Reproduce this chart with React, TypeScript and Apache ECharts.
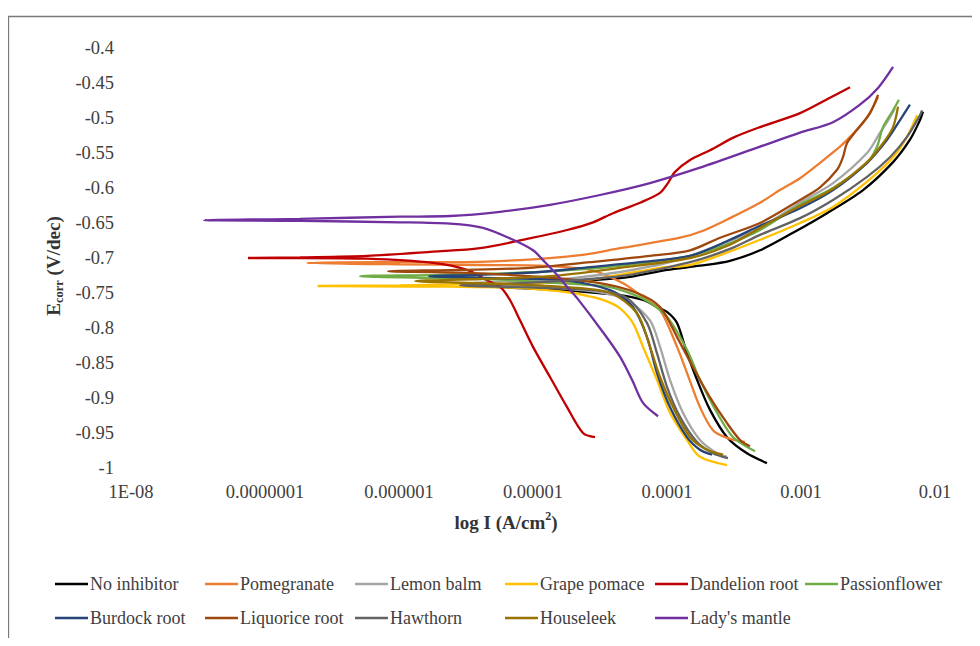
import React, { useEffect, useRef } from "react";
import * as echarts from "echarts";

const seriesNames = [
  "No inhibitor",
  "Pomegranate",
  "Lemon balm",
  "Grape pomace",
  "Dandelion root",
  "Passionflower",
  "Burdock root",
  "Liquorice root",
  "Hawthorn",
  "Houseleek",
  "Lady's mantle",
];

const seriesColors = [
  "#000000",
  "#ED7D31",
  "#A5A5A5",
  "#FFC000",
  "#C00000",
  "#70AD47",
  "#264478",
  "#9E480E",
  "#636363",
  "#997300",
  "#7030A0",
];

const xTickLabels = ["1E-08", "0.0000001", "0.000001", "0.00001", "0.0001", "0.001", "0.01"];

// log10(I) and E pairs, from the cathodic end, through Ecorr, to the anodic end
const noInhibitorLogI = [-3.254, -3.403, -3.552, -3.679, -3.776, -3.851, -3.925, -4.0, -4.075, -4.179, -4.351, -4.575, -4.799, -5.097, -5.396, -4.948, -4.5, -4.276, -4.0, -3.754, -3.53, -3.306, -3.06, -2.806, -2.537, -2.313, -2.187, -2.112, -2.09];
const noInhibitorE = [-0.993, -0.979, -0.956, -0.917, -0.874, -0.836, -0.793, -0.777, -0.77, -0.76, -0.753, -0.749, -0.746, -0.743, -0.74, -0.736, -0.731, -0.727, -0.717, -0.711, -0.704, -0.689, -0.664, -0.636, -0.603, -0.563, -0.531, -0.503, -0.491];

const pomegranateLogI = [-3.418, -3.552, -3.657, -3.754, -3.851, -3.925, -4.052, -4.179, -4.328, -4.575, -4.948, -5.396, -5.993, -6.687, -6.142, -5.619, -5.097, -4.649, -4.351, -3.903, -3.731, -3.53, -3.306, -3.157, -3.007, -2.858, -2.709, -2.634, -2.507, -2.425];
const pomegranateE = [-0.963, -0.957, -0.946, -0.913, -0.864, -0.827, -0.774, -0.756, -0.736, -0.717, -0.711, -0.71, -0.709, -0.707, -0.706, -0.706, -0.703, -0.696, -0.686, -0.671, -0.661, -0.643, -0.621, -0.603, -0.586, -0.564, -0.541, -0.527, -0.499, -0.47];

const lemonBalmLogI = [-3.552, -3.627, -3.754, -3.881, -3.978, -4.052, -4.127, -4.299, -4.5, -4.799, -5.097, -5.47, -5.097, -4.724, -4.351, -3.978, -3.604, -3.306, -3.007, -2.761, -2.507, -2.41, -2.336, -2.299];
const lemonBalmE = [-0.984, -0.979, -0.96, -0.921, -0.874, -0.827, -0.789, -0.76, -0.749, -0.743, -0.739, -0.736, -0.733, -0.729, -0.72, -0.706, -0.681, -0.657, -0.621, -0.593, -0.55, -0.521, -0.499, -0.486];

const grapePomaceLogI = [-3.552, -3.754, -3.851, -3.978, -4.075, -4.179, -4.254, -4.351, -4.448, -4.575, -4.701, -5.075, -5.619, -6.604, -5.993, -5.396, -4.948, -4.575, -4.351, -4.052, -3.828, -3.604, -3.306, -3.007, -2.761, -2.507, -2.313, -2.209, -2.134];
const grapePomaceE = [-0.996, -0.984, -0.96, -0.921, -0.874, -0.827, -0.793, -0.772, -0.762, -0.755, -0.75, -0.743, -0.741, -0.74, -0.739, -0.737, -0.736, -0.731, -0.724, -0.714, -0.71, -0.696, -0.674, -0.65, -0.627, -0.591, -0.556, -0.527, -0.496];

const dandelionRootLogI = [-4.537, -4.627, -4.746, -4.873, -5.0, -5.097, -5.172, -5.246, -5.321, -5.493, -5.746, -6.239, -6.739, -7.127, -6.739, -6.239, -5.746, -5.396, -5.0, -4.746, -4.552, -4.403, -4.201, -4.052, -3.993, -3.94, -3.828, -3.679, -3.493, -3.306, -3.007, -2.784, -2.634];
const dandelionRootE = [-0.956, -0.95, -0.913, -0.87, -0.827, -0.789, -0.76, -0.741, -0.734, -0.717, -0.707, -0.701, -0.7, -0.7, -0.699, -0.697, -0.691, -0.686, -0.671, -0.66, -0.649, -0.636, -0.621, -0.607, -0.593, -0.577, -0.56, -0.546, -0.527, -0.513, -0.493, -0.471, -0.456];

const passionflowerLogI = [-3.343, -3.507, -3.627, -3.754, -3.851, -4.0, -4.127, -4.239, -4.448, -4.799, -5.246, -5.694, -6.291, -5.694, -5.097, -4.5, -4.127, -3.828, -3.53, -3.306, -3.007, -2.761, -2.507, -2.433, -2.388, -2.313, -2.269];
const passionflowerE = [-0.976, -0.956, -0.921, -0.874, -0.831, -0.784, -0.764, -0.753, -0.741, -0.736, -0.731, -0.729, -0.726, -0.724, -0.721, -0.714, -0.706, -0.697, -0.679, -0.66, -0.624, -0.6, -0.564, -0.541, -0.513, -0.489, -0.474];

const burdockRootLogI = [-3.664, -3.754, -3.851, -3.978, -4.075, -4.149, -4.254, -4.425, -4.821, -5.246, -5.776, -5.396, -4.948, -4.575, -4.201, -3.828, -3.53, -3.306, -3.007, -2.761, -2.507, -2.358, -2.261, -2.187];
const burdockRootE = [-0.981, -0.974, -0.956, -0.913, -0.864, -0.813, -0.77, -0.746, -0.731, -0.729, -0.726, -0.724, -0.72, -0.713, -0.706, -0.697, -0.674, -0.654, -0.629, -0.603, -0.564, -0.531, -0.503, -0.481];

const liquoriceRootLogI = [-3.381, -3.455, -3.552, -3.679, -3.806, -3.925, -4.052, -4.224, -4.5, -4.948, -5.545, -6.082, -5.545, -5.022, -4.575, -4.127, -3.828, -3.604, -3.306, -3.007, -2.858, -2.731, -2.687, -2.657, -2.582, -2.485, -2.425];
const liquoriceRootE = [-0.969, -0.96, -0.936, -0.899, -0.856, -0.813, -0.77, -0.75, -0.736, -0.727, -0.721, -0.719, -0.717, -0.714, -0.706, -0.697, -0.689, -0.671, -0.65, -0.617, -0.599, -0.574, -0.556, -0.536, -0.517, -0.493, -0.467];

const hawthornLogI = [-3.545, -3.657, -3.776, -3.903, -4.0, -4.075, -4.149, -4.299, -4.5, -4.873, -5.545, -5.097, -4.649, -4.276, -3.828, -3.53, -3.306, -3.007, -2.761, -2.507, -2.336, -2.209, -2.112, -2.097];
const hawthornE = [-0.986, -0.979, -0.963, -0.927, -0.884, -0.836, -0.793, -0.757, -0.747, -0.743, -0.739, -0.736, -0.731, -0.724, -0.706, -0.687, -0.667, -0.643, -0.617, -0.584, -0.556, -0.527, -0.496, -0.489];

const houseleekLogI = [-3.582, -3.701, -3.828, -3.955, -4.052, -4.127, -4.224, -4.425, -4.799, -5.246, -5.881, -5.396, -4.873, -4.351, -3.828, -3.53, -3.306, -3.06, -2.761, -2.507, -2.388, -2.313, -2.276];
const houseleekE = [-0.981, -0.974, -0.956, -0.913, -0.87, -0.827, -0.779, -0.75, -0.741, -0.737, -0.733, -0.73, -0.726, -0.714, -0.7, -0.681, -0.657, -0.631, -0.601, -0.563, -0.536, -0.513, -0.484];

const ladysMantleLogI = [-4.067, -4.179, -4.261, -4.351, -4.478, -4.672, -4.746, -4.821, -4.91, -5.0, -5.149, -5.373, -5.619, -5.993, -6.739, -7.455, -6.739, -5.993, -5.619, -5.246, -4.873, -4.5, -4.127, -3.754, -3.306, -3.007, -2.761, -2.56, -2.425, -2.313];
const ladysMantleE = [-0.926, -0.907, -0.874, -0.841, -0.806, -0.757, -0.741, -0.724, -0.706, -0.689, -0.674, -0.657, -0.651, -0.649, -0.647, -0.646, -0.644, -0.641, -0.64, -0.634, -0.624, -0.61, -0.593, -0.571, -0.541, -0.521, -0.506, -0.481, -0.457, -0.427];

const seriesLogI = [
  noInhibitorLogI, pomegranateLogI, lemonBalmLogI, grapePomaceLogI, dandelionRootLogI,
  passionflowerLogI, burdockRootLogI, liquoriceRootLogI, hawthornLogI, houseleekLogI, ladysMantleLogI,
];
const seriesE = [
  noInhibitorE, pomegranateE, lemonBalmE, grapePomaceE, dandelionRootE,
  passionflowerE, burdockRootE, liquoriceRootE, hawthornE, houseleekE, ladysMantleE,
];

const FONT = "Liberation Serif";

export default function App() {
  const ref = useRef<HTMLDivElement>(null);

  useEffect(() => {
    if (!ref.current) return;
    const chart = echarts.init(ref.current, null, { renderer: "svg" });

    const series = seriesNames.map((name, i) => ({
      name,
      type: "line",
      data: seriesLogI[i].map((l, k) => [Math.pow(10, l), seriesE[i][k]]),
      symbol: "none",
      smooth: 0.3,
      lineStyle: { color: seriesColors[i], width: 2.3 },
      itemStyle: { color: seriesColors[i] },
    }));

    const legends = seriesNames.map((name, i) => {
      const row = i < 6 ? 0 : 1;
      const col = i < 6 ? i : i - 6;
      return {
        data: [name],
        left: 47 + col * 150,
        top: 567 + row * 34,
        padding: 0,
        icon: "rect",
        itemWidth: 33,
        itemHeight: 2.5,
        selectedMode: false,
        textStyle: { color: "#404040", fontSize: 18, fontFamily: FONT, padding: [0, 0, 0, -3] },
      };
    });

    chart.setOption({
      animation: false,
      grid: { left: 123, right: 45, top: 40, bottom: 170 },
      xAxis: {
        type: "log",
        min: 1e-8,
        max: 1e-2,
        axisLine: { show: false },
        axisTick: { show: false },
        splitLine: { show: false },
        axisLabel: {
          fontSize: 18.5,
          fontFamily: FONT,
          color: "#404040",
          margin: 14,
          formatter: (v: number) => xTickLabels[Math.round(Math.log10(v)) + 8] ?? "",
        },
      },
      yAxis: {
        type: "value",
        min: -1,
        max: -0.4,
        interval: 0.05,
        axisLine: { show: false },
        axisTick: { show: false },
        splitLine: { show: false },
        axisLabel: {
          fontSize: 18.5,
          fontFamily: FONT,
          color: "#404040",
          margin: 17,
          formatter: (v: number) => String(parseFloat(v.toFixed(2))),
        },
      },
      legend: legends,
      graphic: [
        {
          type: "rect",
          shape: { x: 0.5, y: 8.5, width: 1200, height: 1000 },
          style: { fill: "none", stroke: "#7a7a7a", lineWidth: 1.3 },
          silent: true,
        },
        {
          type: "text",
          x: 498,
          y: 514,
          style: {
            text: "log I (A/cm{s|2}{a|)}",
            fill: "#333333",
            fontFamily: FONT,
            fontSize: 19,
            fontWeight: "bold",
            align: "center",
            verticalAlign: "middle",
            rich: {
              a: { fontFamily: FONT, fontSize: 19, fontWeight: "bold", lineHeight: 24 },
              s: { fontFamily: FONT, fontSize: 12, fontWeight: "bold", verticalAlign: "top", lineHeight: 12 },
            },
          },
        },
        {
          type: "text",
          x: 45,
          y: 258,
          rotation: Math.PI / 2,
          style: {
            text: "E{b|corr}{a| (V/dec)}",
            fill: "#333333",
            fontFamily: FONT,
            fontSize: 19,
            fontWeight: "bold",
            align: "center",
            verticalAlign: "middle",
            rich: {
              a: { fontFamily: FONT, fontSize: 19, fontWeight: "bold", lineHeight: 24 },
              b: { fontFamily: FONT, fontSize: 12.5, fontWeight: "bold", verticalAlign: "bottom", lineHeight: 12 },
            },
          },
        },
      ],
      series,
    });

    return () => chart.dispose();
  }, []);

  return <div ref={ref} style={{ width: 972, height: 630 }} />;
}
